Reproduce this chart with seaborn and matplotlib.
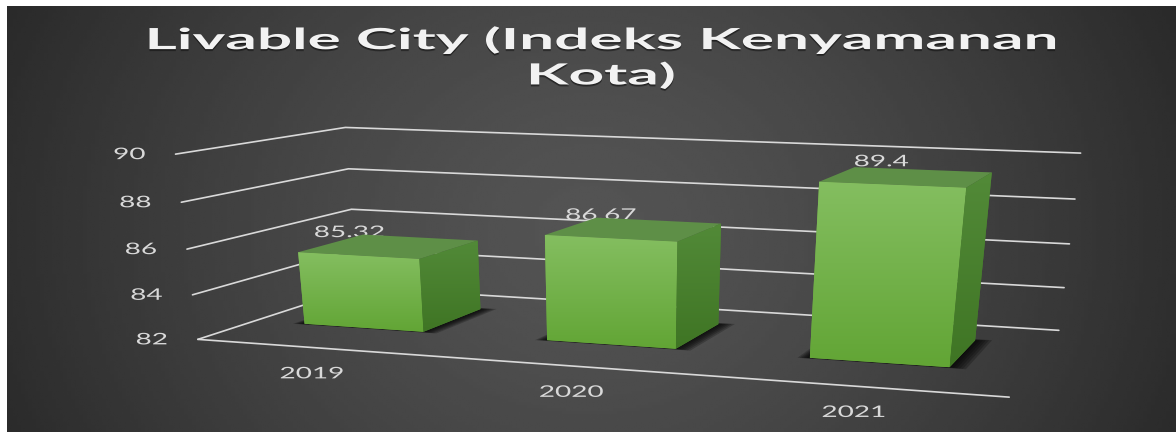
import numpy as np
import matplotlib
matplotlib.use('Agg')
import matplotlib.pyplot as plt
import matplotlib.patheffects as pe
from matplotlib.transforms import Affine2D, Transform
import seaborn as sns

# chart values
years = ['2019', '2020', '2021']
values = [85.32, 86.67, 89.4]
yticks = [82, 84, 86, 88, 90]
title = 'Livable City (Indeks Kenyamanan\nKota)'

# 3D box of the chart as seen in the picture: (u, v, w) -> pixel
box_3d = [(0, 0, 0), (0, 1, 0), (0, 0, 1), (0, 1, 1), (1, 0, 1), (1, 1, 1), (1, 0, 0), (1, 1, 0)]
box_px = [(197, 337), (176, 153), (358, 290), (345, 128), (1059, 330), (1080, 150), (1009, 397), (1033, 193)]

# depth of the bars inside the box, and where the categories fall along it
w_front, w_back = 0.33, 0.75
U_OFF, U_DIV = 0.46, 2.98
TEXT_STRETCH = 1.75

rows = []
for (X, Y, Z), (px, py) in zip(box_3d, box_px):
    rows.append([X, Y, Z, 1, 0, 0, 0, 0, -px * X, -px * Y, -px * Z, -px])
    rows.append([0, 0, 0, 0, X, Y, Z, 1, -py * X, -py * Y, -py * Z, -py])
H = np.linalg.svd(np.array(rows, dtype=float))[2][-1].reshape(3, 4)


def project(u, v, w):
    u, v, w = np.broadcast_arrays(np.asarray(u, float), np.asarray(v, float), np.asarray(w, float))
    pts = np.stack([u, (v - 82) / 8, w, np.ones_like(u)], axis=-1) @ H.T
    return pts[..., :2] / pts[..., 2:]


class FrontFace(Transform):
    # bar rectangles (category index, value) onto the front plane of the bars
    input_dims = 2
    output_dims = 2
    is_separable = False
    has_inverse = False

    def transform_non_affine(self, values):
        xy = np.asarray(values, float)
        return project((xy[:, 0] + U_OFF) / U_DIV, xy[:, 1], w_front)


class Stretch(pe.AbstractPathEffect):
    # the reference has its text squashed, so widen it around its centre
    def __init__(self, cx, sx=TEXT_STRETCH, dy=0, color=None):
        self.cx, self.sx, self.dy, self.color = cx, sx, dy, color

    def draw_path(self, renderer, gc, tpath, affine, rgbFace=None):
        t = Affine2D().translate(-self.cx, 0).scale(self.sx, 1).translate(self.cx, self.dy)
        renderer.draw_path(gc, tpath, affine + t, self.color if self.color else rgbFace)


sns.set_theme(style='dark')
plt.rcParams['font.family'] = ['Lato', 'DejaVu Sans']

fig, ax = plt.subplots(figsize=(11.76, 4.32), dpi=100)
fig.patch.set_facecolor('white')
ax.set_position([0, 0, 1, 1])

sns.barplot(x=years, y=values, color='#6FAE45', saturation=1, width=0.5, ax=ax)
bars = list(ax.patches)
ax.set_axis_off()

# background
gx, gy = np.meshgrid(np.linspace(7, 1176, 300), np.linspace(6, 432, 150))
r = np.sqrt(((gx - 590) / 620) ** 2 + ((gy - 230) / 520) ** 2)
ax.imshow(84 - 40 * r ** 1.4, cmap='gray', vmin=0, vmax=255, extent=(7, 1176, 432, 6),
          aspect='auto', zorder=0, interpolation='bilinear')

# gridlines on the walls and floor
for tick in yticks:
    line = project([0, 0, 1], tick, [0, 1, 1])
    ax.plot(line[:, 0], line[:, 1], color='#D9D9D9', lw=1.2, zorder=1)
    xy = project(0, tick, 0)
    ax.text(xy[0] - 46, xy[1] + 1, str(tick), color='#D9D9D9', fontsize=11.5, ha='center', va='center',
            path_effects=[Stretch(xy[0] - 46)], zorder=1)
floor = project([0, 1], 82, [0, 0])
ax.plot(floor[:, 0], floor[:, 1], color='#D9D9D9', lw=1.2, zorder=1)


def gradient_face(top, bottom, box, clip):
    grad = np.linspace(0, 1, 64)[:, None, None]
    img = np.array(matplotlib.colors.to_rgb(top)) * (1 - grad) + np.array(matplotlib.colors.to_rgb(bottom)) * grad
    im = ax.imshow(img, extent=box, aspect='auto', zorder=clip.get_zorder() + 0.1, interpolation='bilinear')
    im.set_clip_path(clip.get_path(), clip.get_transform())


for i, bar in enumerate(bars):
    left, width = bar.get_x(), bar.get_width()
    val = bar.get_height()
    u0, u1 = (left + U_OFF) / U_DIV, (left + width + U_OFF) / U_DIV

    # the bars start at the axis floor
    bar.set_y(82)
    bar.set_height(val - 82)
    bar.set_transform(FrontFace() + ax.transData)
    bar.set_edgecolor('none')
    bar.set_zorder(3)

    # soft shadow on the floor
    for k in np.linspace(1, 0, 6):
        sh = project([u0 - 0.002 - 0.012 * k, u1 + 0.002 + 0.018 * k, u1 + 0.002 + 0.018 * k, u0 - 0.002 - 0.012 * k], 82,
                     [w_front - 0.012 * k, w_front - 0.012 * k, w_back + 0.02 * k, w_back + 0.02 * k])
        ax.fill(sh[:, 0], sh[:, 1], color='black', alpha=0.22, lw=0, zorder=2)

    # side and top of the box
    side = project([u1, u1, u1, u1], [82, val, val, 82], [w_front, w_front, w_back, w_back])
    side_patch = ax.fill(side[:, 0], side[:, 1], color='#4A7F30', lw=0, zorder=3)[0]
    top = project([u0, u1, u1, u0], val, [w_front, w_front, w_back, w_back])
    ax.fill(top[:, 0], top[:, 1], color='#5E8F47', lw=0, zorder=3)

    # shading of the faces
    xs = project([u0, u1, u0, u1], [82, 82, val, val], w_front)
    gradient_face('#84BE60', '#62A535', (xs[:, 0].min(), xs[:, 0].max(), xs[:, 1].max(), xs[:, 1].min()), bar)
    gradient_face('#528A38', '#3F7524', (side[:, 0].min(), side[:, 0].max(), side[:, 1].max(), side[:, 1].min()), side_patch)

    # data label sits behind the box
    lab = project((u0 + u1) / 2 - 0.012, val, w_front)
    ax.text(lab[0], lab[1] - 22, f'{val:g}', color='#D9D9D9', fontsize=11.5, ha='center', va='center',
            path_effects=[Stretch(lab[0])], zorder=1.5)

    # category label
    cat = project((u0 + u1) / 2, 82, 0)
    ax.text(cat[0] + 2, cat[1] + 27, years[i], color='#D9D9D9', fontsize=11.5, ha='center', va='center',
            path_effects=[Stretch(cat[0] + 2)], zorder=1.5)

# title
ax.text(601, 58, title, color='#F2F2F2', fontsize=21, fontweight='bold', ha='center', va='center',
        linespacing=1.37, zorder=5,
        path_effects=[Stretch(601, 2.13, dy=-2, color=(0, 0, 0, 0.35)), Stretch(601, 2.13, dy=-1, color=(0, 0, 0, 0.35)), Stretch(601, 2.13)])

ax.set_xlim(0, 1176)
ax.set_ylim(432, 0)
fig.savefig('out.png', dpi=100)
